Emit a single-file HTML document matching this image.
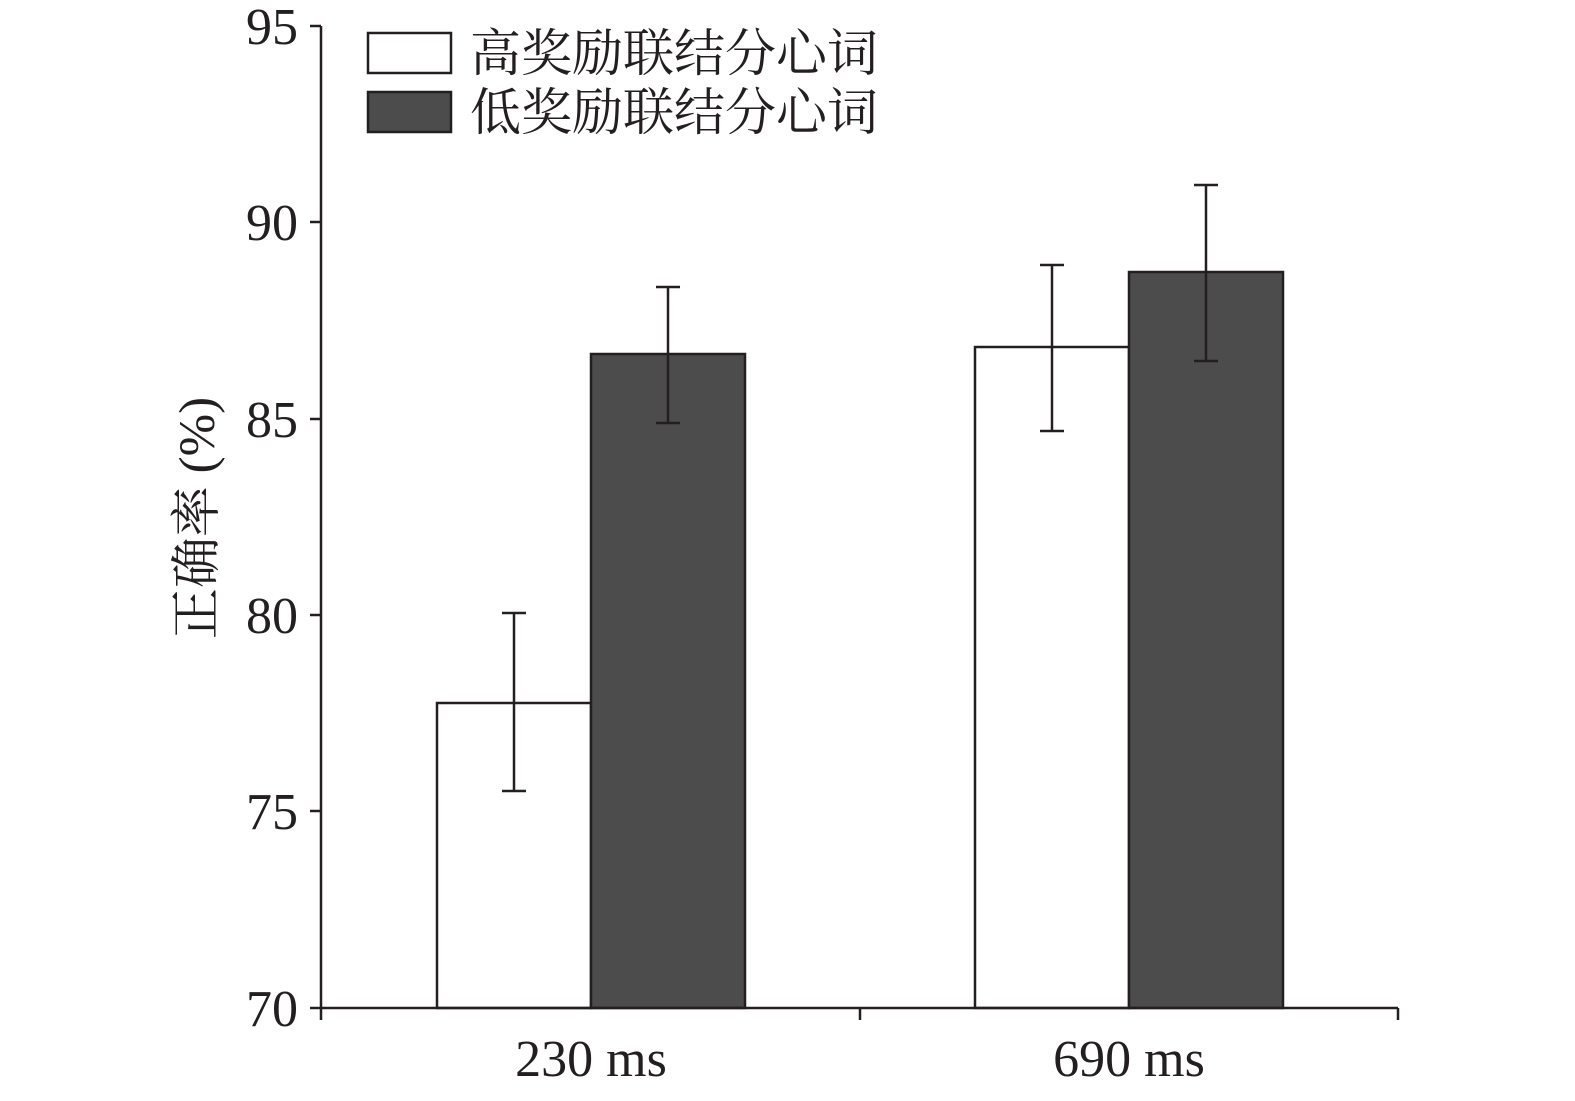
<!DOCTYPE html>
<html><head><meta charset="utf-8"><style>body{margin:0;background:#fff}</style></head>
<body>
<svg width="1575" height="1096" viewBox="0 0 1575 1096" xmlns="http://www.w3.org/2000/svg" font-family="Liberation Serif, Noto Serif CJK SC, serif">
<g stroke="#231f20" stroke-width="2.5">
<rect x="437" y="703" width="154" height="305" fill="#fff"/>
<rect x="591" y="354" width="154" height="654" fill="#4d4c4d"/>
<rect x="975" y="347" width="154" height="661" fill="#fff"/>
<rect x="1129" y="272" width="154" height="736" fill="#4d4c4d"/>
<path d="M514 613V791M502 613H526M502 791H526"/>
<path d="M668 287V423M656 287H680M656 423H680"/>
<path d="M1052 265V431M1040 265H1064M1040 431H1064"/>
<path d="M1206 185V361M1194 185H1218M1194 361H1218"/>
<path d="M321 26V1008H1398M310 26H321M310 222H321M310 419H321M310 615H321M310 811H321M310 1008H321M860 1008V1020M1398 1008V1020M321 1008V1020" fill="none"/>
<rect x="368" y="33" width="83" height="40" fill="#fff"/>
<rect x="368" y="92" width="83" height="40" fill="#4d4c4d"/>
</g>
<g font-size="52" fill="#231f20" text-anchor="end">
<text x="298" y="44">95</text><text x="298" y="240">90</text><text x="298" y="437">85</text>
<text x="298" y="633">80</text><text x="298" y="829">75</text><text x="298" y="1026">70</text>
</g>
<g font-size="52" fill="#231f20" text-anchor="middle">
<text x="591" y="1076">230 ms</text><text x="1129" y="1076">690 ms</text>
</g>
<text transform="translate(214,518) rotate(-90)" font-size="51" fill="#231f20" text-anchor="middle">正确率 (%)</text>
<g font-size="51" fill="#231f20">
<text x="470" y="71">高奖励联结分心词</text>
<text x="470" y="130">低奖励联结分心词</text>
</g>
</svg>
</body></html>
